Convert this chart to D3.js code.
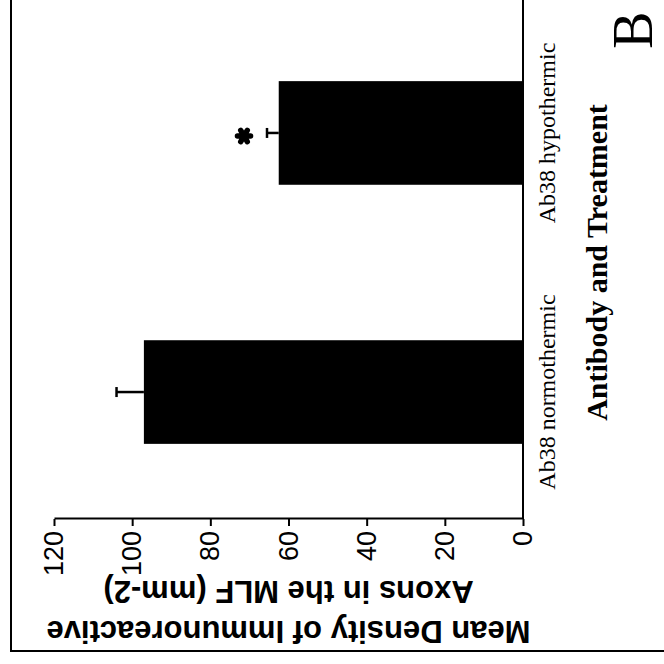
<!DOCTYPE html>
<html>
<head>
<meta charset="utf-8" />
<script src="https://d3js.org/d3.v7.min.js"></script>
<style>
body { margin: 0; background: #fff; }
svg { display: block; }
.y-axis text { font-family: "Liberation Sans", Arial, sans-serif; font-size: 27px; fill: #000; }
.y-axis path, .y-axis line { stroke: #000; stroke-width: 2px; }
.cat-label { font-family: "Liberation Serif", "Times New Roman", serif; font-size: 24px; }
.y-title { font-family: "Liberation Sans", Arial, sans-serif; font-size: 31px; font-weight: bold; }
.x-title { font-family: "Liberation Serif", "Times New Roman", serif; font-size: 30px; font-weight: bold; }
.panel { font-family: "Liberation Serif", "Times New Roman", serif; font-size: 56px; }
</style>
</head>
<body>
<script>
// values
var categories = ["Ab38 normothermic", "Ab38 hypothermic"];
var means = [97, 62.5];
var errors = [7, 3];
var significant = [false, true];
var yTicks = [0, 20, 40, 60, 80, 100, 120];
var yTitle = ["Mean Density of Immunoreactive", "Axons in the MLF (mm-2)"];
var xTitle = "Antibody and Treatment";

var data = categories.map(function(c, i) {
  return { name: c, mean: means[i], err: errors[i], sig: significant[i] };
});

var size = 664;
var svg = d3.select("body").append("svg")
    .attr("width", size)
    .attr("height", size);

// the page was scanned on its side, so draw the chart upright and turn it
var g = svg.append("g")
    .attr("transform", "translate(0," + size + ") rotate(-90)");

var x = d3.scaleBand()
    .domain(categories)
    .range([145, 658])
    .paddingInner(0.6)
    .paddingOuter(0.29);

var y = d3.scaleLinear()
    .domain([0, 120])
    .range([523, 54]);

// frame (only two sides survive the crop)
g.append("path")
  .attr("d", "M13," + size + "V11H" + size)
  .style("fill", "none")
  .style("stroke", "#000")
  .style("stroke-width", 2);

// bars
g.selectAll(".bar")
    .data(data)
  .enter().append("rect")
    .attr("class", "bar")
    .attr("x", function(d) { return x(d.name); })
    .attr("width", x.bandwidth())
    .attr("y", function(d) { return y(d.mean); })
    .attr("height", function(d) { return y(0) - y(d.mean); })
    .style("fill", "#000");

// error bars, upper half only
var eb = g.selectAll(".err")
    .data(data)
  .enter().append("g")
    .attr("class", "err")
    .style("stroke", "#000")
    .style("stroke-width", 2.5);
eb.append("line")
    .attr("x1", function(d) { return x(d.name) + x.bandwidth() / 2; })
    .attr("x2", function(d) { return x(d.name) + x.bandwidth() / 2; })
    .attr("y1", function(d) { return y(d.mean); })
    .attr("y2", function(d) { return y(d.mean + d.err); });
eb.append("line")
    .attr("x1", function(d) { return x(d.name) + x.bandwidth() / 2 - 5; })
    .attr("x2", function(d) { return x(d.name) + x.bandwidth() / 2 + 5; })
    .attr("y1", function(d) { return y(d.mean + d.err); })
    .attr("y2", function(d) { return y(d.mean + d.err); });

// significance star
g.selectAll(".star")
    .data(data.filter(function(d) { return d.sig; }))
  .enter().append("path")
    .attr("class", "star")
    .attr("transform", function(d) {
      return "translate(" + (x(d.name) + x.bandwidth() / 2 - 3) + "," + (y(d.mean + d.err) - 23) + ")";
    })
    .attr("d", d3.symbol().type(d3.symbolAsterisk).size(120))
    .style("fill", "none")
    .style("stroke", "#000")
    .style("stroke-width", 5.5)
    .style("stroke-linecap", "round");

// value axis
g.append("g")
    .attr("class", "y-axis")
    .attr("transform", "translate(145,0)")
    .call(d3.axisLeft(y).tickValues(yTicks).tickSize(7).tickSizeOuter(0).tickPadding(5));

// category axis line
g.append("line")
    .attr("x1", 145)
    .attr("x2", size)
    .attr("y1", y(0))
    .attr("y2", y(0))
    .style("stroke", "#000")
    .style("stroke-width", 2);

// category labels
g.selectAll(".cat-label")
    .data(categories)
  .enter().append("text")
    .attr("class", "cat-label")
    .attr("x", function(d) { return x(d) + x.bandwidth() / 2; })
    .attr("y", 555)
    .attr("text-anchor", "middle")
    .text(function(d) { return d; });

// axis titles
g.selectAll(".y-title")
    .data(yTitle)
  .enter().append("text")
    .attr("class", "y-title")
    .attr("transform", function(d, i) {
      return "translate(" + (43 + i * 40) + "," + (y(0) + y(120)) / 2 + ") rotate(-90)";
    })
    .attr("text-anchor", "middle")
    .text(function(d) { return d; });

g.append("text")
    .attr("class", "x-title")
    .attr("x", (x(categories[0]) + x(categories[1]) + x.bandwidth()) / 2)
    .attr("y", 607)
    .attr("text-anchor", "middle")
    .text(xTitle);

g.append("text")
    .attr("class", "panel")
    .attr("x", 634)
    .attr("y", 652)
    .attr("text-anchor", "middle")
    .text("B");
</script>
</body>
</html>
